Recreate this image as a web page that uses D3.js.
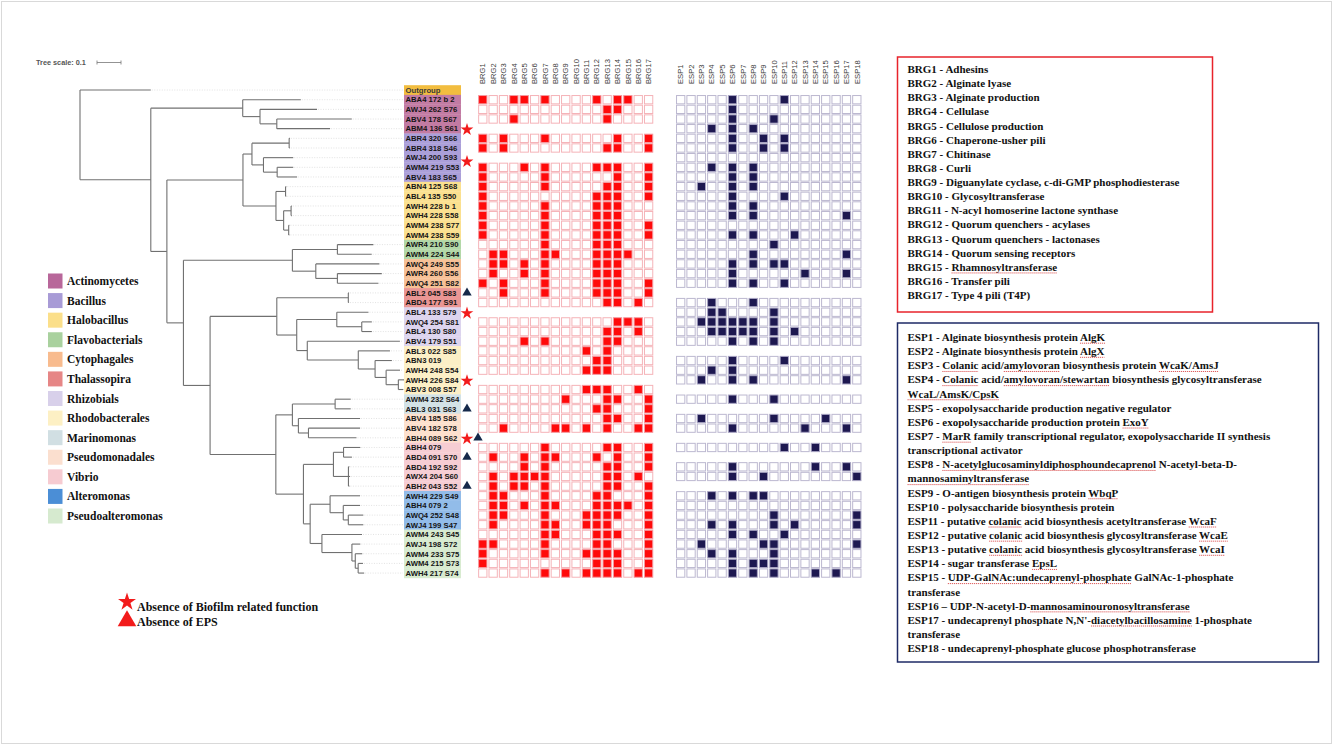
<!DOCTYPE html>
<html>
<head>
<meta charset="utf-8">
<script src="https://cdn.jsdelivr.net/npm/d3@7"></script>
<style>
  body { margin: 0; background: #fff; }
  svg { display: block; }
</style>
</head>
<body>
<div id="chart"></div>
<script>
// ---- data ----
var labels = ["Outgroup",
  "ABA4 172 b 2", "AWJ4 262 S76", "ABV4 178 S67", "ABM4 136 S61",
  "ABR4 320 S66", "ABR4 318 S46", "AWJ4 200 S93", "AWM4 219 S53", "ABV4 183 S65",
  "ABN4 125 S68", "ABL4 135 S50", "AWH4 228 b 1", "AWH4 228 S58", "AWM4 238 S77", "AWM4 238 S59",
  "AWR4 210 S90", "AWM4 224 S44",
  "AWQ4 249 S55", "AWR4 260 S56", "AWQ4 251 S82",
  "ABL2 045 S83", "ABD4 177 S91",
  "ABL4 133 S79", "AWQ4 254 S81", "ABL4 130 S80", "ABV4 179 S51",
  "ABL3 022 S85", "ABN3 019", "AWH4 248 S54", "AWH4 226 S84", "ABV3 008 S57",
  "AWM4 232 S64", "ABL3 031 S63",
  "ABV4 185 S86", "ABV4 182 S78", "ABH4 089 S62",
  "ABH4 079", "ABD4 091 S70", "ABD4 192 S92", "AWX4 204 S60", "ABH2 043 S52",
  "AWH4 229 S49", "ABH4 079 2", "AWQ4 252 S48", "AWJ4 199 S47",
  "AWM4 243 S45", "AWJ4 198 S72", "AWM4 233 S75", "AWM4 215 S73", "AWH4 217 S74"];

var groupNames = ["Outgroup", "Actinomycetes", "Bacillus", "Halobacillus", "Flavobacterials",
  "Cytophagales", "Thalassopira", "Rhizobials", "Rhodobacterales", "Marinomonas",
  "Pseudomonadales", "Vibrio", "Alteromonas", "Pseudoalteromonas"];
var groupSize = [1, 4, 5, 6, 2, 3, 2, 4, 5, 2, 3, 5, 4, 5];
var swatchColors = ["#f2bd3f", "#b8679a", "#a89bd6", "#fbdf8a", "#a9d19e", "#f8bb8e", "#e68686",
  "#d8d0ea", "#fdf0c4", "#d1dfe3", "#fbdfcf", "#f6cbd1", "#4b8ed6", "#d6eacf"];
var labelColors = ["#f2bd3f", "#c27ba3", "#ab9fd9", "#fbe08f", "#b3d8a8", "#f7c197", "#ea9694",
  "#dcd4ee", "#fcefc6", "#d3e2e6", "#fde0cd", "#f6cdd3", "#92bce9", "#d8ebd0"];

var brgCols = ["BRG1", "BRG2", "BRG3", "BRG4", "BRG5", "BRG6", "BRG7", "BRG8", "BRG9", "BRG10",
  "BRG11", "BRG12", "BRG13", "BRG14", "BRG15", "BRG16", "BRG17"];
var espCols = ["ESP1", "ESP2", "ESP3", "ESP4", "ESP5", "ESP6", "ESP7", "ESP8", "ESP9", "ESP10",
  "ESP11", "ESP12", "ESP13", "ESP14", "ESP15", "ESP16", "ESP17", "ESP18"];

// filled columns per row (1-based), null = row not shown
var brgHits = [null,
  [1,4,5,7,12,14,15], [13,14], [4,13], null,
  [1,3,7,14,17], [1,3,13,14,17], null, [1,5,7,12,13,14,17], [1,7,14,17],
  [1,7,13,14,17], [1,12,13,14,17], [1,7,12,13,14], [1,7,12,13,14], [1,7,12,13,14,17], [1,7,12,13,14,17],
  [7,12,13,14], [2,3,7,8,12,13,14,15],
  [2,3,5,7,12,13,14], [2,5,7,12,13,14], [1,3,7,12,13,14,17],
  [3,7,12,13,14,17], [13,14,16],
  null, [14,15,16], [13,14,16], [5,7,13,14],
  [11,13], [12,13], [11,12,13], null, [11,12,13,16],
  [9,13,14,17], [12,13,17],
  [13,14,17], [3,8,9,11,13,16,17], null,
  [7,13,14,17], [2,5,7,8,12,14,17], [5,7,13,14,17], [2,4,5,6,7,13,14,16], [2,4,5,7,13,14,17],
  [2,3,7,12,13,17], [2,3,5,7,8,12,13,14,15,17], [2,3,7,11,12,13,14,17], [2,7,8,11,12,13,17],
  [7,8,12,13,14,17], [1,2,7,12,13,17], [1,7,11,12,13,14,17], [1,12,13,14,17], [7,9,11,12,13,14,16,17]];

var espHits = [null,
  [6,11], [6], [6,10], [4,6,8],
  [6,9,11], [6,9,11], [], [4,6,8], [6,8],
  [3,6,8], [6,11], [6,8], [6,8,17], [], [6,8,12],
  [10], [8,17],
  [6,8,10,11], [6,13,17], [6,8,11],
  null, [4,8],
  [4,5,10], [3,4,5,6,7,8,10], [4,5,6,7,8,10,12], [6,8,10],
  null, [6,11], [4,6], [3,6,8,17], null,
  [6,10], null,
  [3,10,15], [6,13,17], null,
  [11,14], null, [6,14,17], [6,9,18], null,
  [4,6,8,9], [], [10,18], [4,6,10,12,18],
  [6,8,11], [3,9,10,18], [4,6,10], [6,8,9,10], [6,8,10,14,16]];

var starRows = [4, 7, 23, 30, 36];
var triangleRows = [21, 33, 36, 38, 41];

var newick = "(Outgroup:0.295,((ABA4 172 b 2:0.242,(AWJ4 262 S76:0.2375,(ABV4 178 S67:0.3125,ABM4 136 S61:0.222):0.07):0.072):0.383," +
  "((((ABR4 320 S66:0.003,ABR4 318 S46:0.003):0.155,(AWJ4 200 S93:0.124,(AWM4 219 S53:0.067,ABV4 183 S65:0.083):0.057):0.048):0.0375," +
  "((ABN4 125 S68:0.003,ABL4 135 S50:0.003):0.04,((AWH4 228 b 1:0.003,AWH4 228 S58:0.003):0.031,(AWM4 238 S77:0.003,AWM4 238 S59:0.003):0.021):0.032):0.1375):0.317," +
  "(((AWR4 210 S90:0.15,AWM4 224 S44:0.143):0.1875,(AWQ4 249 S55:0.265,(AWR4 260 S56:0.185,AWQ4 251 S82:0.171):0.09):0.0975):0.454," +
  "(((ABL2 045 S83:0.003,ABD4 177 S91:0.003):0.298,((ABL4 133 S79:0.132,(AWQ4 254 S81:0.042,ABL4 130 S80:0.042):0.104):0.167," +
  "(ABV4 179 S51:0.386,(ABL3 022 S85:0.132,(ABN3 019:0.07,(AWH4 248 S54:0.058,(AWH4 226 S84:0.028,ABV3 008 S57:0.02):0.051):0.046):0.07):0.2125):0.044):0.083):0.278," +
  "(((AWM4 232 S64:0.065,ABL3 031 S63:0.065):0.178,(ABV4 185 S86:0.257,(ABV4 182 S78:0.215,ABH4 089 S62:0.2):0.042):0.025):0.069," +
  "(((ABH4 079:0.07,ABD4 091 S70:0.035):0.042,(ABD4 192 S92:0.004,AWX4 204 S60:0.007,ABH2 043 S52:0.004):0.0625):0.125," +
  "((AWH4 229 S49:0.125,(ABH4 079 2:0.07,(AWQ4 252 S48:0.0625,AWJ4 199 S47:0.0625):0.021):0.055):0.083," +
  "(AWM4 243 S45:0.167,(AWJ4 198 S72:0.035,(AWM4 233 S75:0.029,(AWM4 215 S73:0.02,AWH4 217 S74:0.025):0.012):0.014):0.125):0.049):0.028):0.115):0.274):0.111):0.069):0.067):0.295);";

var brgLegend = ["BRG1 - Adhesins", "BRG2 - Alginate lyase", "BRG3 - Alginate production", "BRG4 - Cellulase",
  "BRG5 - Cellulose production", "BRG6 - Chaperone-usher pili", "BRG7 - Chitinase", "BRG8 - Curli",
  "BRG9 - Diguanylate cyclase, c-di-GMP phosphodiesterase", "BRG10 - Glycosyltransferase",
  "BRG11 - N-acyl homoserine lactone synthase", "BRG12  - Quorum quenchers -  acylases",
  "BRG13 - Quorum quenchers - lactonases", "BRG14 - Quorum sensing receptors",
  "BRG15 - [Rhamnosyltransferase]", "BRG16 - Transfer pili", "BRG17 - Type 4 pili (T4P)"];

var espLegend = ["ESP1 - Alginate biosynthesis protein [AlgK]",
  "ESP2 - Alginate biosynthesis protein [AlgX]",
  "ESP3 - [Colanic] acid/[amylovoran] biosynthesis protein [WcaK/AmsJ]",
  "ESP4 - [Colanic] acid/[amylovoran/stewartan] biosynthesis glycosyltransferase",
  "[WcaL/AmsK/CpsK]",
  "ESP5 - exopolysaccharide production negative regulator",
  "ESP6 - exopolysaccharide production protein [ExoY]",
  "ESP7 - [MarR] family transcriptional regulator, exopolysaccharide II synthesis",
  "transcriptional activator",
  "ESP8 - [N-acetylglucosaminyldiphosphoundecaprenol] N-acetyl-beta-D-",
  "[mannosaminyltransferase]",
  "ESP9 - O-antigen biosynthesis protein [WbqP]",
  "ESP10 - polysaccharide biosynthesis protein",
  "ESP11 - putative [colanic] acid biosynthesis acetyltransferase [WcaF]",
  "ESP12 - putative [colanic] acid biosynthesis glycosyltransferase [WcaE]",
  "ESP13 - putative [colanic] acid biosynthesis glycosyltransferase [WcaI]",
  "ESP14 - sugar transferase [EpsL]",
  "ESP15 - [UDP-GalNAc:undecaprenyl-phosphate] GalNAc-1-phosphate",
  "transferase",
  "ESP16 \u2013 UDP-N-acetyl-D-[mannosaminouronosyltransferase]",
  "ESP17 - undecaprenyl phosphate N,N'-[diacetylbacillosamine] 1-phosphate",
  "transferase",
  "ESP18 - undecaprenyl-phosphate glucose phosphotransferase"];

// ---- helpers ----
function parseNewick(s) {
  var ancestors = [], tree = {}, tokens = s.split(/\s*(;|\(|\)|,|:)\s*/);
  for (var i = 0; i < tokens.length; i++) {
    var t = tokens[i], prev = tokens[i - 1], sub;
    if (t === "(") { sub = {}; tree.children = [sub]; ancestors.push(tree); tree = sub; }
    else if (t === ",") { sub = {}; ancestors[ancestors.length - 1].children.push(sub); tree = sub; }
    else if (t === ")") { tree = ancestors.pop(); }
    else if (t === ":" || t === ";" || t === "") { }
    else if (prev === ":") { tree.length = parseFloat(t); }
    else { tree.name = t; }
  }
  return tree;
}

var serif = "'Liberation Serif', 'Times New Roman', serif";
var sans = "'Liberation Sans', Arial, sans-serif";

var svg = d3.select("#chart").append("svg").attr("width", 1334).attr("height", 746);
svg.append("rect").attr("x", 1.5).attr("y", 1.5).attr("width", 1330).attr("height", 742)
  .attr("fill", "#fff").attr("stroke", "#d9d9d9");

var rowY = d3.scaleBand().domain(d3.range(labels.length)).range([85.2, 577.9]);
var rh = rowY.bandwidth();
var cy = function(i) { return rowY(i) + rh / 2; };

var rowGroup = [];
groupSize.forEach(function(n, g) { for (var k = 0; k < n; k++) rowGroup.push(g); });

// ---- tree ----
var treeX = d3.scaleLinear().domain([0, 0.1]).range([80, 104]);
var root = d3.hierarchy(parseNewick(newick));
root.each(function(d) { d.len = d.parent ? d.parent.len + (d.data.length || 0) : 0; });
root.eachAfter(function(d) {
  d.px = treeX(d.len);
  if (!d.children) d.py = cy(labels.indexOf(d.data.name));
  else d.py = (d.children[0].py + d.children[d.children.length - 1].py) / 2;
});

var gTree = svg.append("g").attr("fill", "none");
gTree.selectAll("path.lead").data(root.leaves()).enter().append("path")
  .attr("class", "lead")
  .attr("d", function(d) { return "M" + (d.px + 1) + "," + d.py + "H403"; })
  .attr("stroke", "#cfcfcf").attr("stroke-width", 0.6).attr("stroke-dasharray", "1,1.5");
gTree.selectAll("path.branch").data(root.descendants().filter(function(d) { return d.parent; }))
  .enter().append("path").attr("class", "branch")
  .attr("d", function(d) { return "M" + d.parent.px + "," + d.py + "H" + d.px; })
  .attr("stroke", "#707070").attr("stroke-width", 1.1);
gTree.selectAll("path.vert").data(root.descendants().filter(function(d) { return d.children; }))
  .enter().append("path").attr("class", "vert")
  .attr("d", function(d) {
    return "M" + d.px + "," + d.children[0].py + "V" + d.children[d.children.length - 1].py;
  })
  .attr("stroke", "#707070").attr("stroke-width", 1.1);

// tree scale
svg.append("text").attr("x", 36).attr("y", 65).text("Tree scale: 0.1")
  .attr("font-family", sans).attr("font-size", 7.3).attr("font-weight", "bold").attr("fill", "#555");
var sb = svg.append("g").attr("stroke", "#777").attr("stroke-width", 0.8);
sb.append("path").attr("d", "M" + (treeX(0) + 17) + ",62.5H" + (treeX(0.1) + 17));
sb.append("path").attr("d", "M" + (treeX(0) + 17) + ",60.5V64.5M" + (treeX(0.1) + 17) + ",60.5V64.5");

// ---- labels ----
var gLab = svg.append("g");
gLab.selectAll("rect").data(labels).enter().append("rect")
  .attr("x", 404).attr("y", function(d, i) { return rowY(i); })
  .attr("width", 57).attr("height", rh + 0.3)
  .attr("fill", function(d, i) { return labelColors[rowGroup[i]]; });
gLab.selectAll("text").data(labels).enter().append("text")
  .attr("x", 405.5).attr("y", function(d, i) { return cy(i) + 2.8; })
  .attr("font-family", sans).attr("font-size", 7.7).attr("font-weight", "bold")
  .attr("fill", function(d, i) { return i === 0 ? "#3a3a3a" : "#151515"; })
  .text(function(d) { return d; });

// ---- heat maps ----
function heat(cols, hits, x0, x1, onFill, onStroke, offStroke) {
  var cx = d3.scaleBand().domain(d3.range(cols.length)).range([x0, x1]);
  var cw = cx.bandwidth(), cs = 8.3;
  var g = svg.append("g");
  g.selectAll("text").data(cols).enter().append("text")
    .attr("transform", function(d, i) { return "translate(" + (cx(i) + cw / 2 + 2.7) + ",84) rotate(-90)"; })
    .attr("font-family", sans).attr("font-size", 7.6).attr("fill", "#3c3c3c").text(function(d) { return d; });
  var cells = [];
  hits.forEach(function(h, r) {
    if (!h) return;
    cols.forEach(function(c, j) { cells.push({ r: r, c: j, on: h.indexOf(j + 1) >= 0 }); });
  });
  g.selectAll("rect").data(cells).enter().append("rect")
    .attr("x", function(d) { return cx(d.c) + (cw - cs) / 2; })
    .attr("y", function(d) { return cy(d.r) - cs / 2; })
    .attr("width", cs).attr("height", cs)
    .attr("fill", function(d) { return d.on ? onFill : "#fff"; })
    .attr("stroke", function(d) { return d.on ? onStroke : offStroke; })
    .attr("stroke-width", 1);
}
heat(brgCols, brgHits, 477.6, 653.8, "#ff0a0a", "#f59aa0", "#f5b3b8");
heat(espCols, espHits, 675.5, 862.0, "#1d1850", "#a9a5c3", "#bcb8d0");

// ---- markers ----
svg.selectAll("path.star").data(starRows).enter().append("path").attr("class", "star")
  .attr("transform", function(r) { return "translate(467," + (cy(r) + (r === 7 ? 4 : 1)) + ")"; })
  .attr("d", d3.symbol(d3.symbolStar, 50)).attr("fill", "#f21b1b");
svg.selectAll("path.tri").data(triangleRows).enter().append("path").attr("class", "tri")
  .attr("transform", function(r) { return "translate(" + (starRows.indexOf(r) >= 0 ? 478 : 467) + "," + cy(r) + ")"; })
  .attr("d", d3.symbol(d3.symbolTriangle, 38)).attr("fill", "#15294a");

// ---- group legend ----
var legY = d3.scalePoint().domain(d3.range(1, groupNames.length)).range([281, 516]);
var gLeg = svg.append("g");
gLeg.selectAll("rect").data(d3.range(1, groupNames.length)).enter().append("rect")
  .attr("x", 48).attr("y", function(g) { return legY(g) - 7.5; })
  .attr("width", 14.5).attr("height", 15).attr("fill", function(g) { return swatchColors[g]; });
gLeg.selectAll("text").data(d3.range(1, groupNames.length)).enter().append("text")
  .attr("x", 67).attr("y", function(g) { return legY(g) + 4; })
  .attr("font-family", serif).attr("font-size", 11.5).attr("font-weight", "bold").attr("fill", "#111")
  .text(function(g) { return groupNames[g]; });

// marker legend
svg.append("path").attr("transform", "translate(127,602)")
  .attr("d", d3.symbol(d3.symbolStar, 100)).attr("fill", "#f21b1b");
svg.append("path").attr("transform", "translate(127,621)")
  .attr("d", d3.symbol(d3.symbolTriangle, 150)).attr("fill", "#f21b1b");
svg.append("text").attr("x", 137).attr("y", 611).text("Absence of Biofilm related function")
  .attr("font-family", serif).attr("font-size", 12).attr("font-weight", "bold").attr("fill", "#111");
svg.append("text").attr("x", 137).attr("y", 626).text("Absence of EPS")
  .attr("font-family", serif).attr("font-size", 12).attr("font-weight", "bold").attr("fill", "#111");

// ---- function legends ----
function textBox(lines, x, y, w, h, stroke, y0, step) {
  svg.append("rect").attr("x", x).attr("y", y).attr("width", w).attr("height", h)
    .attr("fill", "none").attr("stroke", stroke).attr("stroke-width", 1.5);
  var g = svg.append("g");
  lines.forEach(function(line, i) {
    var plain = line.replace(/[\[\]]/g, "");
    var t = g.append("text").attr("x", x + 10).attr("y", y0 + i * step)
      .attr("font-family", serif).attr("font-size", 11).attr("font-weight", "bold").attr("fill", "#111")
      .text(plain);
    // red spell-check underlines
    var re = /\[([^\]]+)\]/g, m, shift = 0, node = t.node();
    while ((m = re.exec(line)) !== null) {
      var s = m.index - shift, e = s + m[1].length - 1;
      shift += 2;
      var xa = node.getStartPositionOfChar(s).x, xb = node.getEndPositionOfChar(e).x;
      g.append("path").attr("d", "M" + xa + "," + (y0 + i * step + 2.2) + "H" + xb)
        .attr("stroke", "#d94b4b").attr("stroke-width", 0.9).attr("stroke-dasharray", "1.2,0.8");
    }
  });
}
textBox(brgLegend, 897.5, 57, 315, 255, "#e8232b", 73, 14.125);
textBox(espLegend, 897.5, 323, 421, 339, "#1e2a66", 341, 14.14);
</script>
</body>
</html>
